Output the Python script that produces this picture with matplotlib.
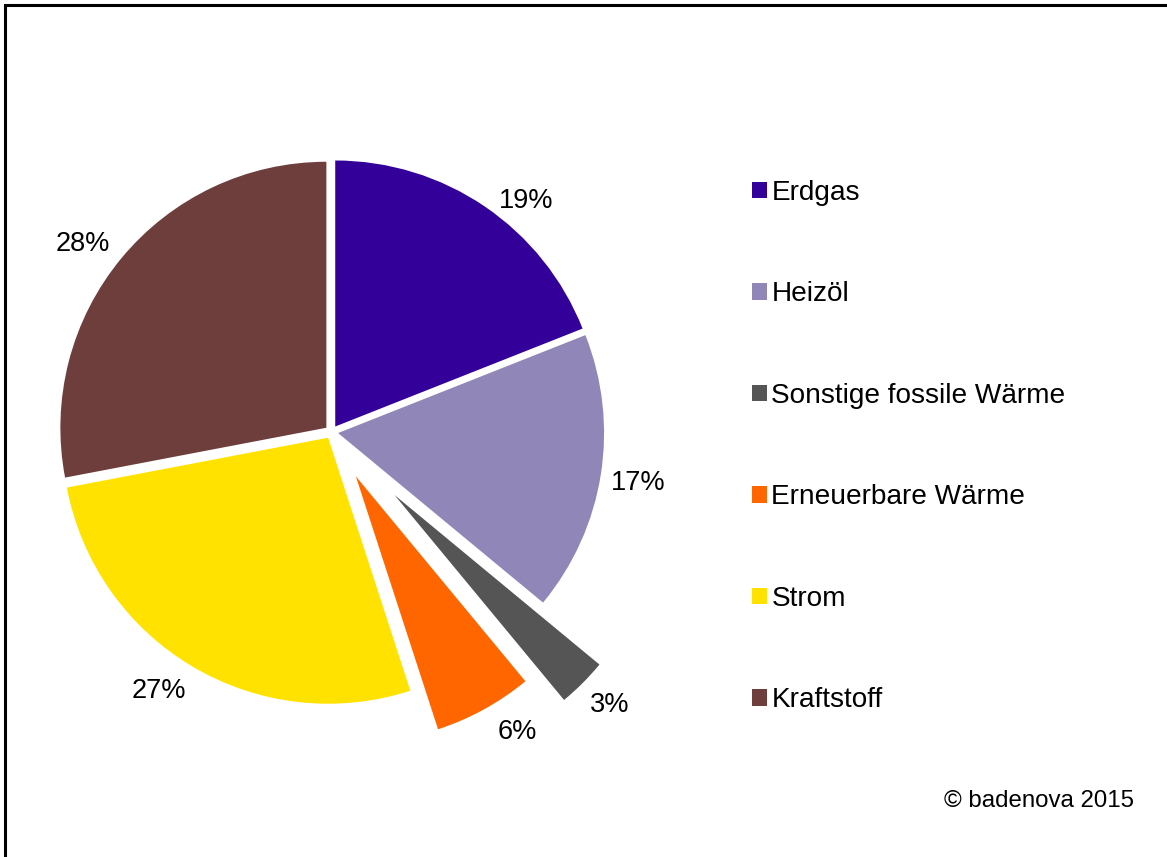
"""Endenergie-Anteile als Tortendiagramm."""
import numpy as np
import matplotlib
matplotlib.use("Agg")
import matplotlib.pyplot as plt
from matplotlib.patches import Rectangle

plt.rcParams["font.family"] = ["Liberation Sans", "DejaVu Sans"]

categories = ["Erdgas", "Heizöl", "Sonstige fossile Wärme",
              "Erneuerbare Wärme", "Strom", "Kraftstoff"]
shares = [19, 17, 3, 6, 27, 28]
colors = ["#330099", "#9087b8", "#555555", "#ff6600", "#ffe200", "#6d3e3b"]
explode = [0.025, 0.025, 0.335, 0.19, 0.025, 0.025]
# nudge of each percent label: degrees clockwise and radial factor
label_shift = [6.0, 0.5, -0.5, -3, 3, -2.5]
label_scale = [0.97, 1.0, 0.99, 0.995, 1.0, 1.0]

W, H, DPI = 1167, 857, 100
cx, cy, R = 331.5, 432, 266  # pie centre / radius in pixels

fig = plt.figure(figsize=(W / DPI, H / DPI), dpi=DPI)
ax = fig.add_axes([0, 0, 1, 1])

wedges, texts, autotexts = ax.pie(
    shares, explode=explode, colors=colors, startangle=90,
    counterclock=False, autopct=lambda p: f"{p:.0f}%", pctdistance=1.145,
    wedgeprops=dict(linewidth=0), textprops=dict(fontsize=19.5, color="black"))

for t, s, k in zip(autotexts, label_shift, label_scale):
    x, y = t.get_position()
    th = np.deg2rad(s)
    t.set_position((k * (x * np.cos(th) + y * np.sin(th)),
                    k * (-x * np.sin(th) + y * np.cos(th))))
    t.set_ha("center")
    t.set_va("center")

ax.set_xlim(-cx / R, (W - cx) / R)
ax.set_ylim(-(H - cy) / R, cy / R)
ax.set_aspect("equal", adjustable="datalim")
ax.axis("off")

leg = fig.legend(wedges, categories, loc="upper left",
                 bbox_to_anchor=(738 / W, 1 - 166 / H), frameon=False,
                 fontsize=20.2, handlelength=0.54, handleheight=0.54,
                 handletextpad=0.15, labelspacing=2.69, borderpad=0)

fig.text(1134 / W, 1 - 801 / H, "© badenova 2015", ha="right", va="center",
         fontsize=17.3)

# outer frame: only left and top edges fall inside the image
fig.patches.append(Rectangle((4.5 / W, -0.2), 1.5, 1.2 - 5 / H,
                             transform=fig.transFigure, fill=False,
                             edgecolor="black", linewidth=2.2))

fig.savefig("out.png", dpi=DPI)
